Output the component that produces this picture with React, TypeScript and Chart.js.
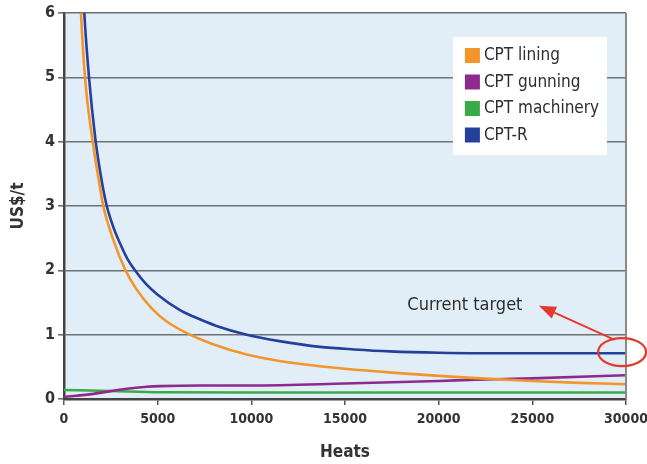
import React, { useEffect, useRef } from "react";
import { Chart, registerables } from "chart.js";

Chart.register(...registerables);

const seriesNames = ["CPT lining", "CPT gunning", "CPT machinery", "CPT-R"];
const seriesColors = ["#f3962a", "#8f2a8d", "#3aab4a", "#23409a"];

const liningHeats = [800, 907, 1121, 1532, 1799, 2098, 2600, 3283, 3881, 4681, 5500, 6726, 7954, 9753, 11500, 13665, 15000, 17500, 20000, 22000, 25000, 27500, 30000];
const liningCost = [6.8, 6.0, 5.0, 4.0, 3.5, 3.0, 2.5, 2.0, 1.7, 1.41, 1.2, 1.0, 0.85, 0.69, 0.59, 0.51, 0.47, 0.41, 0.36, 0.325, 0.28, 0.25, 0.23];

const gunningHeats = [0, 1565, 3345, 4413, 5125, 7260, 10000, 15000, 20000, 22000, 25000, 30000];
const gunningCost = [0.03, 0.08, 0.16, 0.19, 0.2, 0.21, 0.21, 0.24, 0.28, 0.3, 0.32, 0.37];

const machineryHeats = [0, 2455, 5125, 10000, 20000, 30000];
const machineryCost = [0.14, 0.125, 0.105, 0.1, 0.1, 0.1];

const cptrHeats = [950, 1084, 1335, 1671, 1922, 2242, 2600, 2989, 3400, 3790, 4400, 5000, 6192, 7000, 8100, 9753, 11500, 13665, 15500, 17400, 20000, 25000, 30000];
const cptrCost = [6.85, 6.0, 5.0, 4.05, 3.55, 3.05, 2.7, 2.42, 2.17, 2.0, 1.78, 1.62, 1.38, 1.27, 1.14, 1.0, 0.9, 0.81, 0.77, 0.74, 0.72, 0.71, 0.71];

const xTicksMax = 30000;
const xStep = 5000;
const yMax = 6;

const annotationText = "Current target";
const annotationTextPos = { x: 21400, y: 1.45 };
const arrowTip = { x: 25350, y: 1.45 };
const arrowTail = { x: 29400, y: 0.92 };
const ellipseCenter = { x: 29790, y: 0.73 };

const FONT = "'Liberation Sans Narrow', 'DejaVu Sans Condensed', 'Roboto Condensed', 'Arial Narrow', sans-serif";

const toPoints = (xs: number[], ys: number[]) => xs.map((x, i) => ({ x, y: ys[i] }));

export default function App() {
  const ref = useRef<HTMLCanvasElement | null>(null);

  useEffect(() => {
    document.body.style.margin = "0";
    const canvas = ref.current;
    if (!canvas) return;

    const bgPlugin = {
      id: "bgPlugin",
      beforeDraw(chart: any) {
        const { ctx, chartArea } = chart;
        ctx.save();
        ctx.fillStyle = "#e1eef8";
        ctx.fillRect(chartArea.left, chartArea.top, chartArea.right - chartArea.left, chartArea.bottom - chartArea.top);
        ctx.restore();
      },
      afterDraw(chart: any) {
        const { ctx, chartArea } = chart;
        const xs = chart.scales.x;
        const ys = chart.scales.y;
        ctx.save();
        // right border
        ctx.strokeStyle = "#8a8a8a";
        ctx.lineWidth = 2;
        ctx.beginPath();
        ctx.moveTo(chartArea.right, chartArea.top);
        ctx.lineTo(chartArea.right, chartArea.bottom);
        ctx.stroke();

        // legend box
        const lx = chartArea.left + (chartArea.right - chartArea.left) * 0.692;
        const ly = chartArea.top + 24;
        const lw = 154;
        const lh = 118;
        ctx.fillStyle = "#ffffff";
        ctx.fillRect(lx, ly, lw, lh);
        ctx.font = `17px ${FONT}`;
        ctx.textBaseline = "middle";
        ctx.textAlign = "left";
        seriesNames.forEach((name, i) => {
          const cy = ly + 18 + i * 26.5;
          ctx.fillStyle = seriesColors[i];
          ctx.fillRect(lx + 12, cy - 7, 15, 15);
          ctx.fillStyle = "#2d2d2d";
          ctx.fillText(name, lx + 31, cy + 1);
        });

        // annotation
        const red = "#e23b2c";
        ctx.fillStyle = "#2d2d2d";
        ctx.font = `18px ${FONT}`;
        ctx.textAlign = "center";
        ctx.fillText(annotationText, xs.getPixelForValue(annotationTextPos.x), ys.getPixelForValue(annotationTextPos.y));

        const tx = xs.getPixelForValue(arrowTip.x);
        const ty = ys.getPixelForValue(arrowTip.y);
        const sx = xs.getPixelForValue(arrowTail.x);
        const sy = ys.getPixelForValue(arrowTail.y);
        const ang = Math.atan2(ty - sy, tx - sx);
        const headLen = 17;
        const headW = 6.5;
        const bx = tx - headLen * Math.cos(ang);
        const by = ty - headLen * Math.sin(ang);
        ctx.strokeStyle = red;
        ctx.lineWidth = 2;
        ctx.beginPath();
        ctx.moveTo(sx, sy);
        ctx.lineTo(bx, by);
        ctx.stroke();
        ctx.fillStyle = red;
        ctx.beginPath();
        ctx.moveTo(tx, ty);
        ctx.lineTo(bx + headW * Math.sin(ang), by - headW * Math.cos(ang));
        ctx.lineTo(bx - headW * Math.sin(ang), by + headW * Math.cos(ang));
        ctx.closePath();
        ctx.fill();

        ctx.beginPath();
        ctx.ellipse(xs.getPixelForValue(ellipseCenter.x), ys.getPixelForValue(ellipseCenter.y), 24, 14, 0, 0, Math.PI * 2);
        ctx.lineWidth = 2.2;
        ctx.stroke();
        ctx.restore();
      },
    };

    const chart = new Chart(canvas, {
      type: "line",
      data: {
        datasets: [
          { label: seriesNames[3], data: toPoints(cptrHeats, cptrCost), borderColor: seriesColors[3] },
          { label: seriesNames[0], data: toPoints(liningHeats, liningCost), borderColor: seriesColors[0] },
          { label: seriesNames[1], data: toPoints(gunningHeats, gunningCost), borderColor: seriesColors[1] },
          { label: seriesNames[2], data: toPoints(machineryHeats, machineryCost), borderColor: seriesColors[2] },
        ].map((d) => ({ ...d, borderWidth: 2.6, pointRadius: 0, cubicInterpolationMode: "monotone" as const, fill: false })),
      },
      options: {
        responsive: false,
        animation: false,
        layout: { padding: { left: 0, right: 21, top: 13, bottom: 0 } },
        plugins: { legend: { display: false }, tooltip: { enabled: false } },
        scales: {
          x: {
            type: "linear",
            min: 0,
            max: xTicksMax,
            afterFit: (s: any) => { s.height = 65; s.paddingLeft = 0; s.paddingRight = 0; },
            ticks: { stepSize: xStep, color: "#333", padding: 6, maxRotation: 0, callback: (v: any) => String(v), font: { family: FONT, size: 14, weight: "bold" } },
            grid: { drawOnChartArea: false, drawTicks: true, tickLength: 6, color: "#555", lineWidth: 1.5 },
            border: { color: "#444", width: 2.5 },
            title: { display: true, text: "Heats", color: "#333", padding: { top: 0, bottom: 1 }, font: { family: FONT, size: 17, weight: "bold" } },
          },
          y: {
            min: 0,
            max: yMax,
            afterFit: (s: any) => { s.width = 64; s.paddingTop = 0; s.paddingBottom = 0; },
            ticks: { stepSize: 1, color: "#333", padding: 3, font: { family: FONT, size: 16, weight: "bold" } },
            grid: { color: "#707070", lineWidth: 1.6, tickLength: 6 },
            border: { color: "#444", width: 2.5 },
            title: { display: true, text: "US$/t", color: "#333", padding: { top: 8, bottom: 0 }, font: { family: FONT, size: 17, weight: "bold" } },
          },
        },
      },
      plugins: [bgPlugin],
    } as any);

    return () => chart.destroy();
  }, []);

  return <canvas ref={ref} width={647} height={464} style={{ display: "block" }} />;
}
